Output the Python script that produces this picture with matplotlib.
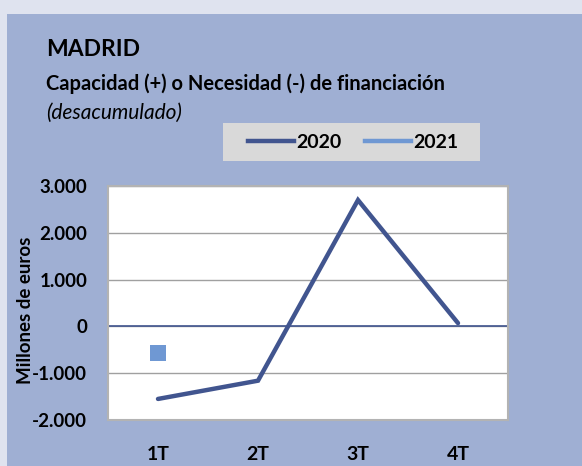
import numpy as np
import matplotlib
matplotlib.use("Agg")
from matplotlib import pyplot as plt
from matplotlib.patches import Rectangle
from matplotlib.lines import Line2D

# datos (millones de euros)
trimestres = ["1T", "2T", "3T", "4T"]
serie_2020 = [-1550, -1160, 2700, 70]
serie_2021 = [-560, np.nan, np.nan, np.nan]
yticks = [-2000, -1000, 0, 1000, 2000, 3000]
ytick_labels = ["-2.000", "-1.000", "0", "1.000", "2.000", "3.000"]

c2020 = "#41558f"
c2021 = "#6f98d3"
fondo = "#9fafd3"

plt.rcParams['font.family'] = ['Lato', 'DejaVu Sans']

W, H = 582, 466
fig = plt.figure(figsize=(W / 100, H / 100), dpi=100)
fig.patch.set_facecolor("#dfe3ef")

# panel azul
fig.add_artist(Rectangle((7 / W, 0), 1, 1 - 14 / H, transform=fig.transFigure,
                         facecolor=fondo, edgecolor="none", zorder=-10))

fig.text(46 / W, 1 - 50 / H, "MADRID", fontsize=16.5, fontweight="bold", va="center")
fig.text(46 / W, 1 - 84 / H, "Capacidad (+) o Necesidad (-) de financiación",
         fontsize=14.5, fontweight="bold", va="center")
fig.text(46 / W, 1 - 113 / H, "(desacumulado)", fontsize=15, style="italic", va="center")

# caja de leyenda
fig.add_artist(Rectangle((223 / W, 1 - 161 / H), 257 / W, 38 / H, transform=fig.transFigure,
                         facecolor="#d9d9d9", edgecolor="none", zorder=-5))

ax = fig.add_axes([108 / W, 46 / H, 400 / W, 234 / H])
ax.set_facecolor("white")
x = np.arange(len(trimestres))
ax.plot(x, serie_2020, color=c2020, lw=3.2, solid_capstyle="round", solid_joinstyle="miter", zorder=3)
ax.plot(x, serie_2021, color=c2021, lw=3.2, marker="s", markersize=11, markeredgewidth=0, zorder=3)

ax.set_xlim(-0.5, 3.5)
ax.set_ylim(-2000, 3000)
ax.set_yticks(yticks)
ax.set_yticklabels(ytick_labels)
ax.set_xticks(x)
ax.set_xticklabels(trimestres)
ax.tick_params(length=0, labelsize=13.5, pad=15)
ax.tick_params(axis="x", labelsize=14, pad=19)
for lab in ax.get_xticklabels() + ax.get_yticklabels():
    lab.set_fontweight("bold")

ax.grid(axis="y", color="#a0a0a0", lw=1)
ax.set_axisbelow(True)
ax.axhline(0, color="#41558f", lw=1.2, zorder=2)
for s in ax.spines.values():
    s.set_color("#b3b3b3")
    s.set_linewidth(1.5)
ax.set_ylabel("Millones de euros", fontsize=13.5, fontweight="bold", va="center")
ax.yaxis.set_label_coords(-0.205, 0.47)

handles = [Line2D([], [], color=c2020, lw=3.2), Line2D([], [], color=c2021, lw=3.2)]
leg = fig.legend(handles, ["2020", "2021"], loc="center", bbox_to_anchor=(353 / W, 1 - 142 / H),
                 ncol=2, frameon=False, handlelength=2.4, handletextpad=0.1, columnspacing=1.2,
                 prop={"size": 14, "weight": "bold"})

fig.savefig("out.png", dpi=100)
